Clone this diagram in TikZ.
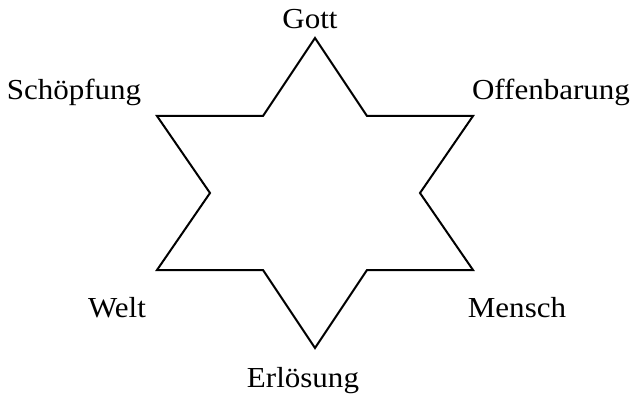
\documentclass[tikz,border=0pt]{standalone}
\usepackage{fontspec}
\setmainfont[FakeStretch=1.07]{Liberation Serif}
\begin{document}
\begin{tikzpicture}[x=1pt, y=-1pt, lbl/.style={font=\fontsize{29}{33}\selectfont, inner sep=0pt, anchor=base}]

	\useasboundingbox (0, 0) rectangle (633, 396);

	\coordinate (o1) at (315, 38);
	\coordinate (i1) at (367, 116);
	\coordinate (o2) at (473, 116);
	\coordinate (i2) at (420, 193);
	\coordinate (o3) at (473, 270);
	\coordinate (i3) at (367, 270);
	\coordinate (o4) at (315, 348);
	\coordinate (i4) at (263, 270);
	\coordinate (o5) at (157, 270);
	\coordinate (i5) at (210, 193);
	\coordinate (o6) at (157, 116);
	\coordinate (i6) at (263, 116);

	\draw[line width=2pt, line join=miter]
	(o1) -- (i1) -- (o2) -- (i2) -- (o3) -- (i3) -- (o4) -- (i4) -- (o5) -- (i5) -- (o6) -- (i6) -- cycle;

	\node (gott) [lbl] at (310, 29) {Gott};
	\node (schoepfung) [lbl] at (74, 100) {Schöpfung};
	\node (offenbarung) [lbl] at (551, 100) {Offenbarung};
	\node (welt) [lbl] at (117, 317) {Welt};
	\node (mensch) [lbl] at (517, 317) {Mensch};
	\node (erloesung) [lbl] at (303, 387) {Erlösung};

\end{tikzpicture}
\end{document}
